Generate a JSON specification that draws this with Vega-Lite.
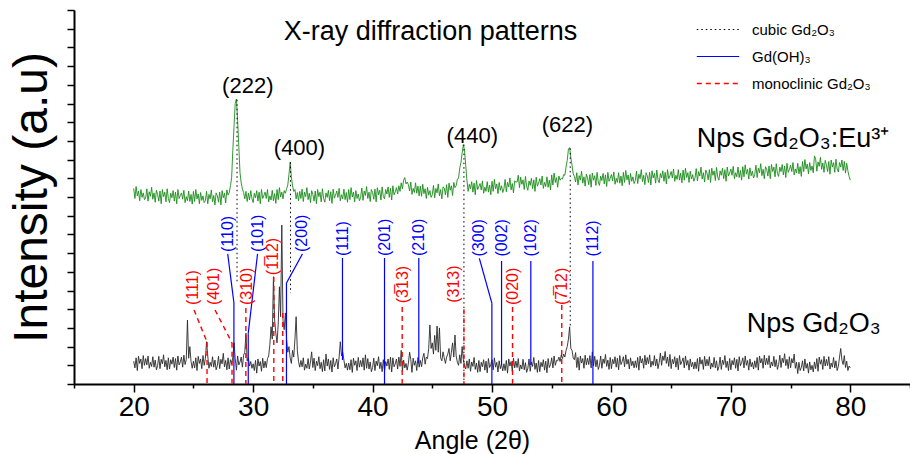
{
"$schema": "https://vega.github.io/schema/vega-lite/v6.json",
"width": 836, "height": 374,
"autosize": "none",
"padding": {"left": 74, "top": 10, "right": 0, "bottom": 70},
"background": "white",
"config": {"view": {"stroke": null}, "font": "Liberation Sans", "axis": {"grid": false}},
"datasets": {
"xrd": [
{"a":20,"g":5.23,"b":0.61},{"a":20.1,"g":4.96,"b":0.43},{"a":20.2,"g":5.28,"b":0.7},{"a":20.3,"g":5.03,"b":0.36},{"a":20.4,"g":5.16,"b":0.74},{"a":20.5,"g":4.9,"b":0.55},{"a":20.6,"g":5.2,"b":0.67},{"a":20.7,"g":4.99,"b":0.41},{"a":20.8,"g":5.11,"b":0.76},{"a":20.9,"g":4.93,"b":0.5},
{"a":21,"g":4.97,"b":0.68},{"a":21.1,"g":5.22,"b":0.51},{"a":21.2,"g":4.89,"b":0.75},{"a":21.3,"g":5.14,"b":0.42},{"a":21.4,"g":5.02,"b":0.58},{"a":21.5,"g":5.26,"b":0.47},{"a":21.6,"g":4.94,"b":0.73},{"a":21.7,"g":5.11,"b":0.45},{"a":21.8,"g":4.86,"b":0.64},{"a":21.9,"g":5.18,"b":0.38},
{"a":22,"g":5.07,"b":0.49},{"a":22.1,"g":4.89,"b":0.74},{"a":22.2,"g":5.16,"b":0.41},{"a":22.3,"g":4.82,"b":0.66},{"a":22.4,"g":5.2,"b":0.54},{"a":22.5,"g":5.01,"b":0.78},{"a":22.6,"g":5.13,"b":0.46},{"a":22.7,"g":4.87,"b":0.63},{"a":22.8,"g":5.22,"b":0.38},{"a":22.9,"g":4.96,"b":0.7},
{"a":23,"g":4.85,"b":0.4},{"a":23.1,"g":5.1,"b":0.65},{"a":23.2,"g":4.98,"b":0.53},{"a":23.3,"g":5.17,"b":0.72},{"a":23.4,"g":4.89,"b":0.44},{"a":23.5,"g":5.13,"b":0.68},{"a":23.6,"g":4.82,"b":0.37},{"a":23.7,"g":5.2,"b":0.75},{"a":23.8,"g":4.96,"b":0.51},{"a":23.9,"g":5.04,"b":0.59},
{"a":24,"g":5.11,"b":0.72},{"a":24.1,"g":4.94,"b":0.45},{"a":24.2,"g":5.18,"b":0.77},{"a":24.3,"g":4.85,"b":0.52},{"a":24.4,"g":5.01,"b":0.65},{"a":24.5,"g":4.9,"b":1.71},{"a":24.6,"g":5.16,"b":0.69},{"a":24.7,"g":4.88,"b":1.0},{"a":24.8,"g":5.07,"b":0.6},{"a":24.9,"g":4.81,"b":0.42},
{"a":25,"g":5.15,"b":0.61},{"a":25.1,"g":4.88,"b":0.43},{"a":25.2,"g":5.2,"b":0.7},{"a":25.3,"g":4.95,"b":0.36},{"a":25.4,"g":5.08,"b":0.74},{"a":25.5,"g":4.82,"b":0.55},{"a":25.6,"g":5.12,"b":0.67},{"a":25.7,"g":4.91,"b":0.41},{"a":25.8,"g":5.03,"b":0.76},{"a":25.9,"g":4.85,"b":0.5},
{"a":26,"g":4.9,"b":0.68},{"a":26.1,"g":5.15,"b":1.13},{"a":26.2,"g":4.82,"b":0.75},{"a":26.3,"g":5.07,"b":0.42},{"a":26.4,"g":4.95,"b":0.58},{"a":26.5,"g":5.19,"b":0.47},{"a":26.6,"g":4.87,"b":0.73},{"a":26.7,"g":5.04,"b":0.45},{"a":26.8,"g":4.79,"b":0.64},{"a":26.9,"g":5.11,"b":0.38},
{"a":27,"g":5.04,"b":0.49},{"a":27.1,"g":4.86,"b":0.74},{"a":27.2,"g":5.13,"b":0.41},{"a":27.3,"g":4.79,"b":0.66},{"a":27.4,"g":5.17,"b":0.54},{"a":27.5,"g":4.98,"b":0.82},{"a":27.6,"g":5.1,"b":0.46},{"a":27.7,"g":4.84,"b":0.63},{"a":27.8,"g":5.19,"b":0.38},{"a":27.9,"g":5.05,"b":0.7},
{"a":28,"g":5.12,"b":0.4},{"a":28.1,"g":5.3,"b":0.65},{"a":28.2,"g":5.52,"b":0.53},{"a":28.3,"g":6.25,"b":0.72},{"a":28.4,"g":6.9,"b":1.1},{"a":28.5,"g":7.5,"b":0.68},{"a":28.6,"g":7.62,"b":0.37},{"a":28.7,"g":7.05,"b":0.75},{"a":28.8,"g":6.35,"b":0.51},{"a":28.9,"g":5.65,"b":0.59},
{"a":29,"g":5.38,"b":0.72},{"a":29.1,"g":5.22,"b":0.45},{"a":29.2,"g":5.12,"b":0.77},{"a":29.3,"g":4.95,"b":0.85},{"a":29.4,"g":5.15,"b":1.36},{"a":29.5,"g":4.88,"b":0.62},{"a":29.6,"g":5.1,"b":0.69},{"a":29.7,"g":4.92,"b":0.48},{"a":29.8,"g":5.17,"b":0.6},{"a":29.9,"g":4.96,"b":0.42},
{"a":30,"g":4.85,"b":0.54},{"a":30.1,"g":5.1,"b":0.36},{"a":30.2,"g":4.98,"b":0.63},{"a":30.3,"g":5.17,"b":0.29},{"a":30.4,"g":4.89,"b":0.67},{"a":30.5,"g":5.13,"b":0.48},{"a":30.6,"g":4.82,"b":0.6},{"a":30.7,"g":5.2,"b":0.34},{"a":30.8,"g":4.96,"b":0.69},{"a":30.9,"g":5.04,"b":0.43},
{"a":31,"g":5.13,"b":0.61},{"a":31.1,"g":4.96,"b":0.44},{"a":31.2,"g":5.2,"b":0.68},{"a":31.3,"g":4.87,"b":0.75},{"a":31.4,"g":5.03,"b":1.05},{"a":31.5,"g":4.92,"b":1.53},{"a":31.6,"g":5.18,"b":1.2},{"a":31.7,"g":4.9,"b":2.87},{"a":31.8,"g":5.09,"b":1.71},{"a":31.9,"g":4.83,"b":1.36},
{"a":32,"g":5.2,"b":1.1},{"a":32.1,"g":4.93,"b":1.6},{"a":32.2,"g":5.25,"b":2.6},{"a":32.3,"g":5.0,"b":1.8},{"a":32.4,"g":5.13,"b":4.25},{"a":32.5,"g":4.95,"b":1.7},{"a":32.6,"g":5.17,"b":1.45},{"a":32.7,"g":5.1,"b":1.9},{"a":32.8,"g":5.22,"b":1.2},{"a":32.9,"g":5.32,"b":0.85},
{"a":33,"g":5.6,"b":1.0},{"a":33.1,"g":5.93,"b":0.7},{"a":33.2,"g":5.55,"b":0.55},{"a":33.3,"g":5.3,"b":0.9},{"a":33.4,"g":5.15,"b":0.72},{"a":33.5,"g":5.2,"b":1.2},{"a":33.6,"g":4.95,"b":1.8},{"a":33.7,"g":5.12,"b":0.9},{"a":33.8,"g":4.9,"b":0.6},{"a":33.9,"g":5.15,"b":0.45},
{"a":34,"g":4.96,"b":0.63},{"a":34.1,"g":5.21,"b":0.46},{"a":34.2,"g":4.88,"b":0.7},{"a":34.3,"g":5.13,"b":0.37},{"a":34.4,"g":5.01,"b":0.53},{"a":34.5,"g":5.25,"b":0.42},{"a":34.6,"g":4.93,"b":0.68},{"a":34.7,"g":5.1,"b":0.4},{"a":34.8,"g":4.85,"b":0.59},{"a":34.9,"g":5.17,"b":0.86},
{"a":35,"g":5.07,"b":0.44},{"a":35.1,"g":4.89,"b":0.69},{"a":35.2,"g":5.16,"b":0.36},{"a":35.3,"g":4.82,"b":0.61},{"a":35.4,"g":5.2,"b":0.49},{"a":35.5,"g":5.01,"b":0.73},{"a":35.6,"g":5.13,"b":0.41},{"a":35.7,"g":4.87,"b":0.58},{"a":35.8,"g":5.22,"b":0.33},{"a":35.9,"g":4.96,"b":0.65},
{"a":36,"g":4.86,"b":0.35},{"a":36.1,"g":5.11,"b":0.8},{"a":36.2,"g":4.99,"b":0.48},{"a":36.3,"g":5.18,"b":0.67},{"a":36.4,"g":4.9,"b":0.39},{"a":36.5,"g":5.14,"b":0.63},{"a":36.6,"g":4.83,"b":0.32},{"a":36.7,"g":5.21,"b":0.7},{"a":36.8,"g":4.97,"b":0.46},{"a":36.9,"g":5.05,"b":0.54},
{"a":37,"g":5.16,"b":0.67},{"a":37.1,"g":4.99,"b":0.4},{"a":37.2,"g":5.23,"b":0.72},{"a":37.3,"g":4.9,"b":1.13},{"a":37.4,"g":5.06,"b":0.75},{"a":37.5,"g":4.95,"b":0.86},{"a":37.6,"g":5.21,"b":0.64},{"a":37.7,"g":4.93,"b":0.43},{"a":37.8,"g":5.12,"b":0.55},{"a":37.9,"g":4.86,"b":0.37},
{"a":38,"g":5.2,"b":0.56},{"a":38.1,"g":4.93,"b":0.38},{"a":38.2,"g":5.25,"b":0.65},{"a":38.3,"g":5.0,"b":0.31},{"a":38.4,"g":5.13,"b":0.69},{"a":38.5,"g":4.87,"b":0.5},{"a":38.6,"g":5.17,"b":0.62},{"a":38.7,"g":4.96,"b":0.36},{"a":38.8,"g":5.08,"b":0.71},{"a":38.9,"g":4.9,"b":0.45},
{"a":39,"g":4.99,"b":0.63},{"a":39.1,"g":5.24,"b":0.46},{"a":39.2,"g":4.91,"b":0.7},{"a":39.3,"g":5.16,"b":0.37},{"a":39.4,"g":5.04,"b":0.78},{"a":39.5,"g":5.28,"b":0.42},{"a":39.6,"g":4.96,"b":0.68},{"a":39.7,"g":5.13,"b":0.4},{"a":39.8,"g":4.88,"b":0.59},{"a":39.9,"g":5.2,"b":0.33},
{"a":40,"g":5.12,"b":0.44},{"a":40.1,"g":4.94,"b":0.69},{"a":40.2,"g":5.21,"b":0.36},{"a":40.3,"g":4.87,"b":0.61},{"a":40.4,"g":5.25,"b":0.49},{"a":40.5,"g":5.06,"b":0.73},{"a":40.6,"g":5.18,"b":0.41},{"a":40.7,"g":4.92,"b":0.58},{"a":40.8,"g":5.27,"b":0.33},{"a":40.9,"g":5.01,"b":0.65},
{"a":41,"g":4.95,"b":0.35},{"a":41.1,"g":5.2,"b":0.6},{"a":41.2,"g":5.08,"b":0.48},{"a":41.3,"g":5.27,"b":0.67},{"a":41.4,"g":4.99,"b":0.39},{"a":41.5,"g":5.23,"b":0.72},{"a":41.6,"g":4.92,"b":0.32},{"a":41.7,"g":5.3,"b":0.7},{"a":41.8,"g":5.06,"b":0.46},{"a":41.9,"g":5.14,"b":0.54},
{"a":42,"g":5.25,"b":0.67},{"a":42.1,"g":5.08,"b":0.4},{"a":42.2,"g":5.3,"b":0.72},{"a":42.3,"g":5.15,"b":0.47},{"a":42.4,"g":5.38,"b":0.9},{"a":42.5,"g":5.22,"b":0.34},{"a":42.6,"g":5.45,"b":0.64},{"a":42.7,"g":5.52,"b":0.43},{"a":42.8,"g":5.35,"b":0.55},{"a":42.9,"g":5.4,"b":0.37},
{"a":43,"g":5.33,"b":0.56},{"a":43.1,"g":5.16,"b":0.85},{"a":43.2,"g":5.4,"b":0.65},{"a":43.3,"g":5.07,"b":0.31},{"a":43.4,"g":5.23,"b":0.69},{"a":43.5,"g":5.12,"b":0.5},{"a":43.6,"g":5.38,"b":0.62},{"a":43.7,"g":5.1,"b":0.36},{"a":43.8,"g":5.29,"b":0.71},{"a":43.9,"g":5.03,"b":0.45},
{"a":44,"g":5.29,"b":0.63},{"a":44.1,"g":5.02,"b":0.46},{"a":44.2,"g":5.34,"b":0.7},{"a":44.3,"g":5.09,"b":0.82},{"a":44.4,"g":5.22,"b":0.53},{"a":44.5,"g":4.96,"b":0.72},{"a":44.6,"g":5.26,"b":0.68},{"a":44.7,"g":5.05,"b":0.95},{"a":44.8,"g":5.17,"b":1.58},{"a":44.9,"g":4.99,"b":0.95},
{"a":45,"g":5.06,"b":1.1},{"a":45.1,"g":5.31,"b":0.8},{"a":45.2,"g":4.98,"b":1.3},{"a":45.3,"g":5.23,"b":0.9},{"a":45.4,"g":5.11,"b":1.55},{"a":45.5,"g":5.35,"b":0.85},{"a":45.6,"g":5.03,"b":1.5},{"a":45.7,"g":5.2,"b":0.7},{"a":45.8,"g":4.95,"b":0.62},{"a":45.9,"g":5.27,"b":0.86},
{"a":46,"g":5.24,"b":0.7},{"a":46.1,"g":5.06,"b":0.55},{"a":46.2,"g":5.33,"b":0.72},{"a":46.3,"g":4.99,"b":0.8},{"a":46.4,"g":5.37,"b":0.95},{"a":46.5,"g":5.18,"b":0.62},{"a":46.6,"g":5.3,"b":0.85},{"a":46.7,"g":5.04,"b":1.1},{"a":46.8,"g":5.39,"b":0.72},{"a":46.9,"g":5.25,"b":1.31},
{"a":47,"g":5.3,"b":0.75},{"a":47.1,"g":5.48,"b":0.58},{"a":47.2,"g":5.5,"b":0.5},{"a":47.3,"g":5.78,"b":0.78},{"a":47.4,"g":5.92,"b":0.55},{"a":47.5,"g":6.18,"b":1.0},{"a":47.6,"g":6.4,"b":0.65},{"a":47.7,"g":6.25,"b":0.5},{"a":47.8,"g":5.85,"b":0.4},{"a":47.9,"g":5.45,"b":0.62},
{"a":48,"g":5.15,"b":0.42},{"a":48.1,"g":5.34,"b":0.67},{"a":48.2,"g":5.22,"b":0.34},{"a":48.3,"g":5.41,"b":0.59},{"a":48.4,"g":5.13,"b":0.47},{"a":48.5,"g":5.37,"b":0.71},{"a":48.6,"g":5.06,"b":0.39},{"a":48.7,"g":5.44,"b":0.56},{"a":48.8,"g":5.2,"b":0.31},{"a":48.9,"g":5.28,"b":0.63},
{"a":49,"g":5.36,"b":0.33},{"a":49.1,"g":5.19,"b":0.58},{"a":49.2,"g":5.43,"b":0.46},{"a":49.3,"g":5.1,"b":0.65},{"a":49.4,"g":5.26,"b":0.37},{"a":49.5,"g":5.15,"b":0.61},{"a":49.6,"g":5.41,"b":0.3},{"a":49.7,"g":5.13,"b":0.68},{"a":49.8,"g":5.32,"b":0.44},{"a":49.9,"g":5.06,"b":0.52},
{"a":50,"g":5.42,"b":0.65},{"a":50.1,"g":5.15,"b":0.38},{"a":50.2,"g":5.47,"b":0.7},{"a":50.3,"g":5.22,"b":0.45},{"a":50.4,"g":5.35,"b":0.58},{"a":50.5,"g":5.09,"b":0.32},{"a":50.6,"g":5.39,"b":0.62},{"a":50.7,"g":5.18,"b":0.41},{"a":50.8,"g":5.3,"b":0.53},{"a":50.9,"g":5.12,"b":0.35},
{"a":51,"g":5.22,"b":0.54},{"a":51.1,"g":5.47,"b":0.36},{"a":51.2,"g":5.14,"b":0.63},{"a":51.3,"g":5.39,"b":0.29},{"a":51.4,"g":5.27,"b":0.67},{"a":51.5,"g":5.51,"b":0.48},{"a":51.6,"g":5.19,"b":0.6},{"a":51.7,"g":5.36,"b":0.34},{"a":51.8,"g":5.11,"b":0.69},{"a":51.9,"g":5.43,"b":0.43},
{"a":52,"g":5.4,"b":0.61},{"a":52.1,"g":5.4,"b":0.44},{"a":52.2,"g":5.58,"b":0.68},{"a":52.3,"g":5.25,"b":0.35},{"a":52.4,"g":5.53,"b":0.51},{"a":52.5,"g":5.34,"b":0.4},{"a":52.6,"g":5.46,"b":0.66},{"a":52.7,"g":5.2,"b":0.38},{"a":52.8,"g":5.55,"b":0.57},{"a":52.9,"g":5.29,"b":0.31},
{"a":53,"g":5.18,"b":0.42},{"a":53.1,"g":5.43,"b":0.67},{"a":53.2,"g":5.31,"b":0.34},{"a":53.3,"g":5.5,"b":0.59},{"a":53.4,"g":5.22,"b":0.47},{"a":53.5,"g":5.46,"b":0.71},{"a":53.6,"g":5.15,"b":0.39},{"a":53.7,"g":5.53,"b":0.56},{"a":53.8,"g":5.29,"b":0.31},{"a":53.9,"g":5.37,"b":0.63},
{"a":54,"g":5.49,"b":0.33},{"a":54.1,"g":5.32,"b":0.58},{"a":54.2,"g":5.56,"b":0.46},{"a":54.3,"g":5.23,"b":0.65},{"a":54.4,"g":5.39,"b":0.37},{"a":54.5,"g":5.28,"b":0.61},{"a":54.6,"g":5.54,"b":0.3},{"a":54.7,"g":5.26,"b":0.68},{"a":54.8,"g":5.45,"b":0.44},{"a":54.9,"g":5.19,"b":0.52},
{"a":55,"g":5.59,"b":0.7},{"a":55.1,"g":5.32,"b":0.43},{"a":55.2,"g":5.64,"b":0.75},{"a":55.3,"g":5.39,"b":0.5},{"a":55.4,"g":5.52,"b":0.63},{"a":55.5,"g":5.26,"b":0.62},{"a":55.6,"g":5.56,"b":0.72},{"a":55.7,"g":5.45,"b":0.6},{"a":55.8,"g":5.5,"b":0.78},{"a":55.9,"g":5.48,"b":0.68},
{"a":56,"g":5.6,"b":0.8},{"a":56.1,"g":5.58,"b":0.72},{"a":56.2,"g":5.8,"b":0.9},{"a":56.3,"g":5.98,"b":1.0},{"a":56.4,"g":6.28,"b":1.2},{"a":56.5,"g":6.32,"b":1.53},{"a":56.6,"g":6.05,"b":0.95},{"a":56.7,"g":5.85,"b":0.9},{"a":56.8,"g":5.62,"b":0.7},{"a":56.9,"g":5.55,"b":0.65},
{"a":57,"g":5.4,"b":0.84},{"a":57.1,"g":5.65,"b":0.44},{"a":57.2,"g":5.32,"b":0.71},{"a":57.3,"g":5.57,"b":0.37},{"a":57.4,"g":5.45,"b":0.75},{"a":57.5,"g":5.69,"b":0.56},{"a":57.6,"g":5.37,"b":0.68},{"a":57.7,"g":5.54,"b":0.42},{"a":57.8,"g":5.29,"b":0.77},{"a":57.9,"g":5.61,"b":0.51},
{"a":58,"g":5.51,"b":0.69},{"a":58.1,"g":5.33,"b":0.52},{"a":58.2,"g":5.6,"b":0.76},{"a":58.3,"g":5.26,"b":0.43},{"a":58.4,"g":5.64,"b":0.86},{"a":58.5,"g":5.45,"b":0.48},{"a":58.6,"g":5.57,"b":0.74},{"a":58.7,"g":5.31,"b":0.46},{"a":58.8,"g":5.66,"b":0.65},{"a":58.9,"g":5.4,"b":0.39},
{"a":59,"g":5.31,"b":0.5},{"a":59.1,"g":5.56,"b":0.75},{"a":59.2,"g":5.44,"b":0.42},{"a":59.3,"g":5.63,"b":0.67},{"a":59.4,"g":5.35,"b":0.55},{"a":59.5,"g":5.59,"b":0.79},{"a":59.6,"g":5.28,"b":0.47},{"a":59.7,"g":5.66,"b":0.64},{"a":59.8,"g":5.42,"b":0.39},{"a":59.9,"g":5.5,"b":0.71},
{"a":60,"g":5.6,"b":0.41},{"a":60.1,"g":5.43,"b":0.66},{"a":60.2,"g":5.67,"b":0.54},{"a":60.3,"g":5.34,"b":0.73},{"a":60.4,"g":5.5,"b":0.45},{"a":60.5,"g":5.39,"b":0.69},{"a":60.6,"g":5.65,"b":0.38},{"a":60.7,"g":5.37,"b":0.76},{"a":60.8,"g":5.56,"b":0.52},{"a":60.9,"g":5.3,"b":0.6},
{"a":61,"g":5.66,"b":0.73},{"a":61.1,"g":5.39,"b":0.46},{"a":61.2,"g":5.71,"b":0.78},{"a":61.3,"g":5.46,"b":0.53},{"a":61.4,"g":5.59,"b":0.66},{"a":61.5,"g":5.33,"b":0.4},{"a":61.6,"g":5.63,"b":0.7},{"a":61.7,"g":5.42,"b":0.49},{"a":61.8,"g":5.54,"b":0.61},{"a":61.9,"g":5.36,"b":0.43},
{"a":62,"g":5.44,"b":0.62},{"a":62.1,"g":5.69,"b":0.44},{"a":62.2,"g":5.36,"b":0.71},{"a":62.3,"g":5.61,"b":0.37},{"a":62.4,"g":5.49,"b":0.75},{"a":62.5,"g":5.73,"b":0.56},{"a":62.6,"g":5.41,"b":0.68},{"a":62.7,"g":5.58,"b":0.42},{"a":62.8,"g":5.33,"b":0.77},{"a":62.9,"g":5.65,"b":0.51},
{"a":63,"g":5.57,"b":0.71},{"a":63.1,"g":5.39,"b":0.54},{"a":63.2,"g":5.66,"b":0.78},{"a":63.3,"g":5.32,"b":0.45},{"a":63.4,"g":5.7,"b":0.61},{"a":63.5,"g":5.51,"b":0.5},{"a":63.6,"g":5.63,"b":0.76},{"a":63.7,"g":5.37,"b":0.48},{"a":63.8,"g":5.72,"b":0.67},{"a":63.9,"g":5.46,"b":0.41},
{"a":64,"g":5.38,"b":0.58},{"a":64.1,"g":5.63,"b":0.83},{"a":64.2,"g":5.51,"b":0.5},{"a":64.3,"g":5.7,"b":0.75},{"a":64.4,"g":5.42,"b":0.63},{"a":64.5,"g":5.66,"b":0.87},{"a":64.6,"g":5.35,"b":0.55},{"a":64.7,"g":5.73,"b":0.72},{"a":64.8,"g":5.49,"b":0.47},{"a":64.9,"g":5.57,"b":0.79},
{"a":65,"g":5.68,"b":0.41},{"a":65.1,"g":5.51,"b":0.66},{"a":65.2,"g":5.75,"b":0.54},{"a":65.3,"g":5.42,"b":0.73},{"a":65.4,"g":5.58,"b":0.45},{"a":65.5,"g":5.47,"b":0.69},{"a":65.6,"g":5.73,"b":0.38},{"a":65.7,"g":5.45,"b":0.76},{"a":65.8,"g":5.64,"b":0.52},{"a":65.9,"g":5.38,"b":0.6},
{"a":66,"g":5.72,"b":0.7},{"a":66.1,"g":5.45,"b":0.43},{"a":66.2,"g":5.77,"b":0.75},{"a":66.3,"g":5.52,"b":0.5},{"a":66.4,"g":5.65,"b":0.63},{"a":66.5,"g":5.39,"b":0.37},{"a":66.6,"g":5.69,"b":0.67},{"a":66.7,"g":5.48,"b":0.46},{"a":66.8,"g":5.6,"b":0.58},{"a":66.9,"g":5.42,"b":0.4},
{"a":67,"g":5.51,"b":0.59},{"a":67.1,"g":5.76,"b":0.41},{"a":67.2,"g":5.43,"b":0.68},{"a":67.3,"g":5.68,"b":0.34},{"a":67.4,"g":5.56,"b":0.72},{"a":67.5,"g":5.8,"b":0.53},{"a":67.6,"g":5.48,"b":0.65},{"a":67.7,"g":5.65,"b":0.39},{"a":67.8,"g":5.4,"b":0.74},{"a":67.9,"g":5.72,"b":0.48},
{"a":68,"g":5.64,"b":0.66},{"a":68.1,"g":5.46,"b":0.49},{"a":68.2,"g":5.73,"b":0.73},{"a":68.3,"g":5.39,"b":0.4},{"a":68.4,"g":5.77,"b":0.56},{"a":68.5,"g":5.58,"b":0.45},{"a":68.6,"g":5.7,"b":0.71},{"a":68.7,"g":5.44,"b":0.43},{"a":68.8,"g":5.79,"b":0.62},{"a":68.9,"g":5.53,"b":0.36},
{"a":69,"g":5.45,"b":0.47},{"a":69.1,"g":5.7,"b":0.72},{"a":69.2,"g":5.58,"b":0.39},{"a":69.3,"g":5.77,"b":0.64},{"a":69.4,"g":5.49,"b":0.52},{"a":69.5,"g":5.73,"b":0.76},{"a":69.6,"g":5.42,"b":0.44},{"a":69.7,"g":5.8,"b":0.61},{"a":69.8,"g":5.56,"b":0.36},{"a":69.9,"g":5.64,"b":0.68},
{"a":70,"g":5.75,"b":0.38},{"a":70.1,"g":5.58,"b":0.63},{"a":70.2,"g":5.82,"b":0.51},{"a":70.3,"g":5.49,"b":0.7},{"a":70.4,"g":5.65,"b":0.42},{"a":70.5,"g":5.54,"b":0.66},{"a":70.6,"g":5.8,"b":0.35},{"a":70.7,"g":5.52,"b":0.73},{"a":70.8,"g":5.71,"b":0.49},{"a":70.9,"g":5.45,"b":0.57},
{"a":71,"g":5.81,"b":0.7},{"a":71.1,"g":5.54,"b":0.43},{"a":71.2,"g":5.86,"b":0.75},{"a":71.3,"g":5.61,"b":0.5},{"a":71.4,"g":5.74,"b":0.63},{"a":71.5,"g":5.48,"b":0.37},{"a":71.6,"g":5.78,"b":0.67},{"a":71.7,"g":5.57,"b":0.46},{"a":71.8,"g":5.69,"b":0.58},{"a":71.9,"g":5.51,"b":0.4},
{"a":72,"g":5.6,"b":0.62},{"a":72.1,"g":5.85,"b":0.44},{"a":72.2,"g":5.52,"b":0.71},{"a":72.3,"g":5.77,"b":0.37},{"a":72.4,"g":5.65,"b":0.75},{"a":72.5,"g":5.89,"b":0.56},{"a":72.6,"g":5.57,"b":0.68},{"a":72.7,"g":5.74,"b":0.42},{"a":72.8,"g":5.49,"b":0.77},{"a":72.9,"g":5.81,"b":0.51},
{"a":73,"g":5.74,"b":0.69},{"a":73.1,"g":5.56,"b":0.52},{"a":73.2,"g":5.83,"b":0.76},{"a":73.3,"g":5.49,"b":0.43},{"a":73.4,"g":5.87,"b":0.59},{"a":73.5,"g":5.68,"b":0.48},{"a":73.6,"g":5.8,"b":0.74},{"a":73.7,"g":5.54,"b":0.46},{"a":73.8,"g":5.89,"b":0.65},{"a":73.9,"g":5.63,"b":0.39},
{"a":74,"g":5.55,"b":0.52},{"a":74.1,"g":5.8,"b":0.77},{"a":74.2,"g":5.68,"b":0.44},{"a":74.3,"g":5.87,"b":0.69},{"a":74.4,"g":5.59,"b":0.57},{"a":74.5,"g":5.83,"b":0.81},{"a":74.6,"g":5.52,"b":0.49},{"a":74.7,"g":5.9,"b":0.66},{"a":74.8,"g":5.66,"b":0.41},{"a":74.9,"g":5.74,"b":0.73},
{"a":75,"g":5.85,"b":0.43},{"a":75.1,"g":5.68,"b":0.68},{"a":75.2,"g":5.92,"b":0.56},{"a":75.3,"g":5.59,"b":0.8},{"a":75.4,"g":5.75,"b":0.42},{"a":75.5,"g":5.64,"b":0.58},{"a":75.6,"g":5.9,"b":0.28},{"a":75.7,"g":5.62,"b":0.58},{"a":75.8,"g":5.81,"b":0.36},{"a":75.9,"g":5.55,"b":0.44},
{"a":76,"g":5.95,"b":0.62},{"a":76.1,"g":5.68,"b":0.35},{"a":76.2,"g":6.0,"b":0.67},{"a":76.3,"g":5.75,"b":0.42},{"a":76.4,"g":5.88,"b":0.55},{"a":76.5,"g":5.62,"b":0.29},{"a":76.6,"g":5.92,"b":0.59},{"a":76.7,"g":5.71,"b":0.38},{"a":76.8,"g":5.83,"b":0.5},{"a":76.9,"g":5.65,"b":0.32},
{"a":77,"g":6.1,"b":0.59},{"a":77.1,"g":6.02,"b":0.41},{"a":77.2,"g":5.69,"b":0.68},{"a":77.3,"g":5.94,"b":0.34},{"a":77.4,"g":5.82,"b":0.72},{"a":77.5,"g":6.06,"b":0.53},{"a":77.6,"g":5.74,"b":0.65},{"a":77.7,"g":5.91,"b":0.39},{"a":77.8,"g":5.66,"b":0.74},{"a":77.9,"g":5.98,"b":0.48},
{"a":78,"g":5.86,"b":0.66},{"a":78.1,"g":5.68,"b":0.49},{"a":78.2,"g":5.95,"b":0.73},{"a":78.3,"g":5.61,"b":0.4},{"a":78.4,"g":5.99,"b":0.56},{"a":78.5,"g":5.8,"b":0.45},{"a":78.6,"g":5.92,"b":0.71},{"a":78.7,"g":5.66,"b":0.43},{"a":78.8,"g":6.01,"b":0.62},{"a":78.9,"g":5.75,"b":0.36},
{"a":79,"g":5.67,"b":0.47},{"a":79.1,"g":5.92,"b":0.72},{"a":79.2,"g":5.8,"b":0.95},{"a":79.3,"g":5.99,"b":0.64},{"a":79.4,"g":5.71,"b":0.52},{"a":79.5,"g":5.95,"b":0.76},{"a":79.6,"g":5.64,"b":0.44},{"a":79.7,"g":5.9,"b":0.61},{"a":79.8,"g":5.7,"b":0.36},{"a":79.9,"g":5.55,"b":0.48},
{"a":80,"g":5.45,"b":0.43}
],
"segs": [
{"p":"cubic Gd₂O₃","x1":28.65,"y1":7.6,"x2":28.65,"y2":2.7},
{"p":"cubic Gd₂O₃","x1":33.13,"y1":5.93,"x2":33.13,"y2":2.43},
{"p":"cubic Gd₂O₃","x1":47.65,"y1":6.4,"x2":47.65,"y2":0},
{"p":"cubic Gd₂O₃","x1":56.55,"y1":6.3,"x2":56.55,"y2":1.52},
{"p":"Gd(OH)₃","x1":27.87,"y1":3.48,"x2":28.39,"y2":2.17},
{"p":"Gd(OH)₃","x1":28.39,"y1":2.17,"x2":28.39,"y2":0},
{"p":"Gd(OH)₃","x1":30.37,"y1":3.48,"x2":29.59,"y2":1.36},
{"p":"Gd(OH)₃","x1":29.59,"y1":1.36,"x2":29.59,"y2":0},
{"p":"Gd(OH)₃","x1":34.13,"y1":3.48,"x2":32.79,"y2":2.7},
{"p":"Gd(OH)₃","x1":32.79,"y1":2.7,"x2":32.79,"y2":0},
{"p":"Gd(OH)₃","x1":37.48,"y1":3.37,"x2":37.48,"y2":0.64},
{"p":"Gd(OH)₃","x1":41.0,"y1":3.37,"x2":41.0,"y2":0},
{"p":"Gd(OH)₃","x1":43.87,"y1":3.37,"x2":43.87,"y2":0.56},
{"p":"Gd(OH)₃","x1":48.94,"y1":3.36,"x2":49.99,"y2":2.16},
{"p":"Gd(OH)₃","x1":49.99,"y1":2.16,"x2":49.99,"y2":0},
{"p":"Gd(OH)₃","x1":50.8,"y1":3.29,"x2":50.8,"y2":0.51},
{"p":"Gd(OH)₃","x1":53.25,"y1":3.29,"x2":53.25,"y2":0.51},
{"p":"Gd(OH)₃","x1":58.45,"y1":3.29,"x2":58.45,"y2":0},
{"p":"monoclinic Gd₂O₃","x1":25.05,"y1":1.98,"x2":26.14,"y2":1.12},
{"p":"monoclinic Gd₂O₃","x1":26.14,"y1":1.12,"x2":26.14,"y2":0},
{"p":"monoclinic Gd₂O₃","x1":26.81,"y1":1.98,"x2":28.23,"y2":1.1},
{"p":"monoclinic Gd₂O₃","x1":28.23,"y1":1.1,"x2":28.23,"y2":0},
{"p":"monoclinic Gd₂O₃","x1":29.39,"y1":2.03,"x2":29.39,"y2":0},
{"p":"monoclinic Gd₂O₃","x1":31.73,"y1":2.86,"x2":31.73,"y2":0},
{"p":"monoclinic Gd₂O₃","x1":32.48,"y1":1.9,"x2":32.48,"y2":0},
{"p":"monoclinic Gd₂O₃","x1":42.48,"y1":2.06,"x2":42.48,"y2":0},
{"p":"monoclinic Gd₂O₃","x1":47.65,"y1":2.0,"x2":47.65,"y2":0},
{"p":"monoclinic Gd₂O₃","x1":51.72,"y1":2.06,"x2":51.72,"y2":0},
{"p":"monoclinic Gd₂O₃","x1":55.84,"y1":2.11,"x2":55.84,"y2":0}
],
"hkl": [
{"p":"Gd(OH)₃","x":27.87,"y":3.53,"t":"(110)"},
{"p":"Gd(OH)₃","x":30.37,"y":3.53,"t":"(101)"},
{"p":"Gd(OH)₃","x":34.13,"y":3.53,"t":"(200)"},
{"p":"Gd(OH)₃","x":37.52,"y":3.42,"t":"(111)"},
{"p":"Gd(OH)₃","x":41.0,"y":3.42,"t":"(201)"},
{"p":"Gd(OH)₃","x":43.87,"y":3.42,"t":"(210)"},
{"p":"Gd(OH)₃","x":48.94,"y":3.41,"t":"(300)"},
{"p":"Gd(OH)₃","x":50.8,"y":3.41,"t":"(002)"},
{"p":"Gd(OH)₃","x":53.25,"y":3.41,"t":"(102)"},
{"p":"Gd(OH)₃","x":58.45,"y":3.41,"t":"(112)"},
{"p":"monoclinic Gd₂O₃","x":24.99,"y":2.11,"t":"(111)"},
{"p":"monoclinic Gd₂O₃","x":26.75,"y":2.11,"t":"(401)"},
{"p":"monoclinic Gd₂O₃","x":29.45,"y":2.11,"t":"(310)"},
{"p":"monoclinic Gd₂O₃","x":31.67,"y":2.91,"t":"(1̅12)"},
{"p":"monoclinic Gd₂O₃","x":42.53,"y":2.16,"t":"(3̅13)"},
{"p":"monoclinic Gd₂O₃","x":46.85,"y":2.17,"t":"(313)"},
{"p":"monoclinic Gd₂O₃","x":51.77,"y":2.11,"t":"(020)"},
{"p":"monoclinic Gd₂O₃","x":55.84,"y":2.11,"t":"(7̅12)"}
],
"peaks": [
{"x":29.55,"y":7.96,"t":"(222)"},
{"x":33.88,"y":6.3,"t":"(400)"},
{"x":48.35,"y":6.64,"t":"(440)"},
{"x":56.31,"y":6.93,"t":"(622)"}
],
"notes": [
{"x":67.14,"y":6.345,"t":"Nps Gd₂O₃:Eu³⁺"},
{"x":71.33,"y":1.382,"t":"Nps Gd₂O₃"}
],
"head": [
{"x":44.85,"y":9.198,"t":"X-ray diffraction patterns"}
]
},
"layer": [
{"data": {"name": "xrd"}, "mark": {"type": "line", "color": "#1a8c1a", "strokeWidth": 0.9},
 "encoding": {
  "x": {"field": "a", "type": "quantitative", "scale": {"domain": [15, 85], "nice": false, "zero": false},
   "axis": {"title": "Angle (2θ)", "titleFontSize": 25, "titleFontWeight": "normal", "titleColor": "black", "titleFont": "Liberation Sans",
    "values": [15,20,25,30,35,40,45,50,55,60,65,70,75,80,85], "tickCount": 100, "format": "d",
    "labelExpr": "datum.value % 10 === 0 ? datum.label : ''",
    "tickSize": {"condition": {"test": "datum.value % 10 === 0", "value": 8}, "value": 4},
    "tickWidth": 1.5, "tickColor": "black", "domainColor": "black", "domainWidth": 2,
    "labelFontSize": 28, "labelColor": "black", "labelFont": "Liberation Sans", "labelPadding": 1, "labelOverlap": false, "labelBound": false, "labelFlush": false,
    "titleX": 398, "titleY": 64, "titleBaseline": "alphabetic", "titleAlign": "center"}},
  "y": {"field": "g", "type": "quantitative", "scale": {"domain": [0, 10], "nice": false},
   "axis": {"title": "Intensity (a.u)", "titleFontSize": 48, "titleFontWeight": "normal", "titleColor": "black", "titleFont": "Liberation Sans",
    "labels": false, "values": [0,0.5,1,1.5,2,2.5,3,3.5,4,4.5,5,5.5,6,6.5,7,7.5,8,8.5,9,9.5,10], "tickCount": 100,
    "tickSize": 7, "tickWidth": 1.5, "tickColor": "black", "domainColor": "black", "domainWidth": 2, "titlePadding": 10}}
 }},
{"data": {"name": "xrd"}, "mark": {"type": "line", "color": "#2a2a2a", "strokeWidth": 0.9},
 "encoding": {"x": {"field": "a", "type": "quantitative"}, "y": {"field": "b", "type": "quantitative"}}},
{"data": {"name": "segs"}, "mark": {"type": "rule"},
 "encoding": {
  "x": {"field": "x1", "type": "quantitative"}, "y": {"field": "y1", "type": "quantitative"},
  "x2": {"field": "x2"}, "y2": {"field": "y2"},
  "color": {"field": "p", "type": "nominal", "scale": {"domain": ["cubic Gd₂O₃", "Gd(OH)₃", "monoclinic Gd₂O₃"], "range": ["black", "blue", "red"]},
   "legend": {"orient": "none", "legendX": 622, "legendY": 6, "title": null, "symbolType": "stroke", "symbolSize": 1800, "symbolStrokeWidth": 1.5, "labelFontSize": 15, "labelFont": "Liberation Sans", "labelColor": "black", "labelOffset": 12, "rowPadding": 0, "clipHeight": 27}},
  "strokeDash": {"field": "p", "type": "nominal", "scale": {"domain": ["cubic Gd₂O₃", "Gd(OH)₃", "monoclinic Gd₂O₃"], "range": [[1.5, 3], [1, 0], [5, 4]]},
   "legend": {"orient": "none", "legendX": 622, "legendY": 6, "title": null, "symbolType": "stroke", "symbolSize": 1800, "symbolStrokeWidth": 1.5, "labelFontSize": 15, "labelFont": "Liberation Sans", "labelColor": "black", "labelOffset": 12, "rowPadding": 0, "clipHeight": 27}},
  "strokeWidth": {"field": "p", "type": "nominal", "scale": {"domain": ["cubic Gd₂O₃", "Gd(OH)₃", "monoclinic Gd₂O₃"], "range": [1, 1.4, 1.1]}, "legend": null}
 }},
{"data": {"name": "hkl"}, "mark": {"type": "text", "angle": 270, "align": "left", "baseline": "middle", "fontSize": 16, "font": "Liberation Sans"},
 "encoding": {"x": {"field": "x", "type": "quantitative"}, "y": {"field": "y", "type": "quantitative"}, "text": {"field": "t"},
  "color": {"field": "p", "type": "nominal", "legend": null}}},
{"data": {"name": "peaks"}, "mark": {"type": "text", "align": "center", "baseline": "middle", "fontSize": 22, "color": "black", "font": "Liberation Sans"},
 "encoding": {"x": {"field": "x", "type": "quantitative"}, "y": {"field": "y", "type": "quantitative"}, "text": {"field": "t"}}},
{"data": {"name": "notes"}, "mark": {"type": "text", "align": "left", "baseline": "alphabetic", "fontSize": 27, "color": "black", "font": "Liberation Sans"},
 "encoding": {"x": {"field": "x", "type": "quantitative"}, "y": {"field": "y", "type": "quantitative"}, "text": {"field": "t"}}},
{"data": {"name": "head"}, "mark": {"type": "text", "align": "center", "baseline": "alphabetic", "fontSize": 27, "color": "black", "font": "Liberation Sans"},
 "encoding": {"x": {"field": "x", "type": "quantitative"}, "y": {"field": "y", "type": "quantitative"}, "text": {"field": "t"}}}
]
}
